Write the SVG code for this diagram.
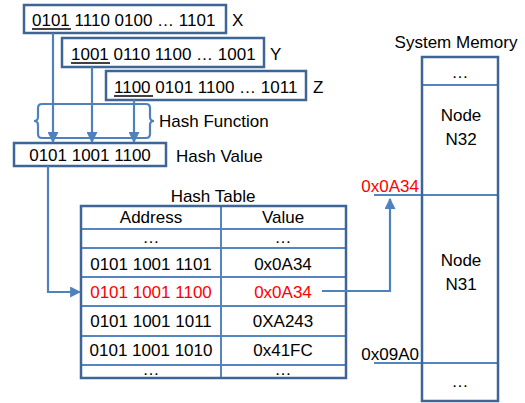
<svg xmlns="http://www.w3.org/2000/svg" width="525" height="403" viewBox="0 0 525 403">
<defs>
<style>
text{font-family:"Liberation Sans",Arial,sans-serif;font-size:17px;fill:#000}
.red{fill:#ff0000}
.box{fill:#fff;stroke:#3d6696;stroke-width:2.5}
.in{stroke:#5585c0;stroke-width:2;fill:none}
.con{stroke:#4f81bd;stroke-width:2.2;fill:none}
.mid{text-anchor:middle}
</style>
<marker id="ah" viewBox="0 0 10 10" refX="9" refY="5" markerWidth="5" markerHeight="5" orient="auto" markerUnits="strokeWidth">
<path d="M0,0 L10,5 L0,10 z" fill="#4f81bd"/>
</marker>
</defs>

<g id="keyX">
<rect class="box" x="24" y="5" width="202" height="28"/>
<text x="32" y="26">0101 1110 0100 … 1101</text>
<line x1="32" y1="29" x2="71" y2="29" stroke="#000" stroke-width="1.5"/>
<text x="232" y="26">X</text>
</g>
<g id="keyY">
<rect class="box" x="62" y="38" width="202" height="29"/>
<text x="71" y="60">1001 0110 1100 … 1001</text>
<line x1="71" y1="63" x2="110" y2="63" stroke="#000" stroke-width="1.5"/>
<text x="270" y="60">Y</text>
</g>
<g id="keyZ">
<rect class="box" x="106" y="71" width="200" height="29"/>
<text x="114" y="93">1100 0101 1100 … 1011</text>
<line x1="114" y1="96" x2="153" y2="96" stroke="#000" stroke-width="1.5"/>
<text x="313" y="93">Z</text>
</g>

<g id="hashFunction">
<path class="con" d="M44,104 L146,104 Q150,104 150,108 L150,117 Q150,121 154,121 Q150,121 150,125 L150,134 Q150,138 146,138 L42,138 Q38,138 38,134 L38,125 Q38,121 34,121 Q38,121 38,117 L38,108 Q38,104 42,104 Z"/>
<text x="159" y="127">Hash Function</text>
</g>

<g id="hashValue">
<rect class="box" x="14" y="143" width="152" height="23"/>
<text class="mid" x="90" y="161">0101 1001 1100</text>
<text x="176" y="162">Hash Value</text>
</g>

<g id="hashTable">
<text class="mid" x="213" y="202">Hash Table</text>
<rect x="81" y="206" width="265" height="172" fill="#fff"/>
<g class="in">
<line x1="81" y1="229" x2="346" y2="229"/>
<line x1="81" y1="248" x2="346" y2="248"/>
<line x1="81" y1="277" x2="346" y2="277"/>
<line x1="81" y1="306" x2="346" y2="306"/>
<line x1="81" y1="336" x2="346" y2="336"/>
<line x1="81" y1="365" x2="346" y2="365"/>
<line x1="221" y1="206" x2="221" y2="378"/>
</g>
<rect x="81" y="206" width="265" height="172" fill="none" stroke="#3d6696" stroke-width="2.5"/>
<text class="mid" x="151" y="223">Address</text>
<text class="mid" x="283" y="223">Value</text>
<text class="mid" x="151" y="243">…</text>
<text class="mid" x="283" y="243">…</text>
<text class="mid" x="151" y="270">0101 1001 1101</text>
<text class="mid" x="283" y="270">0x0A34</text>
<text class="mid red" x="151" y="298">0101 1001 1100</text>
<text class="mid red" x="283" y="298">0x0A34</text>
<text class="mid" x="151" y="327">0101 1001 1011</text>
<text class="mid" x="283" y="327">0XA243</text>
<text class="mid" x="151" y="356">0101 1001 1010</text>
<text class="mid" x="283" y="356">0x41FC</text>
<text class="mid" x="151" y="375">…</text>
<text class="mid" x="283" y="375">…</text>
</g>

<g id="systemMemory">
<text class="mid" x="456" y="48">System Memory</text>
<rect x="422" y="57" width="76" height="344" fill="#fff"/>
<g class="in">
<line x1="422" y1="85" x2="498" y2="85"/>
<line x1="374" y1="195" x2="498" y2="195"/>
<line x1="374" y1="363" x2="498" y2="363"/>
</g>
<rect x="422" y="57" width="76" height="344" fill="none" stroke="#3d6696" stroke-width="2.5"/>
<text class="mid" x="460" y="78">…</text>
<text class="mid" x="461" y="121">Node</text>
<text class="mid" x="461" y="145">N32</text>
<text class="mid" x="461" y="266">Node</text>
<text class="mid" x="461" y="290">N31</text>
<text class="mid" x="460" y="387">…</text>
<text class="red" x="419" y="192" text-anchor="end">0x0A34</text>
<text x="419" y="360" text-anchor="end">0x09A0</text>
</g>

<g id="connectors">
<line class="con" x1="53" y1="33" x2="53" y2="142" marker-end="url(#ah)"/>
<line class="con" x1="92" y1="67" x2="92" y2="142" marker-end="url(#ah)"/>
<line class="con" x1="134" y1="100" x2="134" y2="142" marker-end="url(#ah)"/>
<polyline class="con" points="48,166 48,292 80,292" marker-end="url(#ah)"/>
<polyline class="con" points="322,291 390,291 390,199" marker-end="url(#ah)"/>
</g>
</svg>
